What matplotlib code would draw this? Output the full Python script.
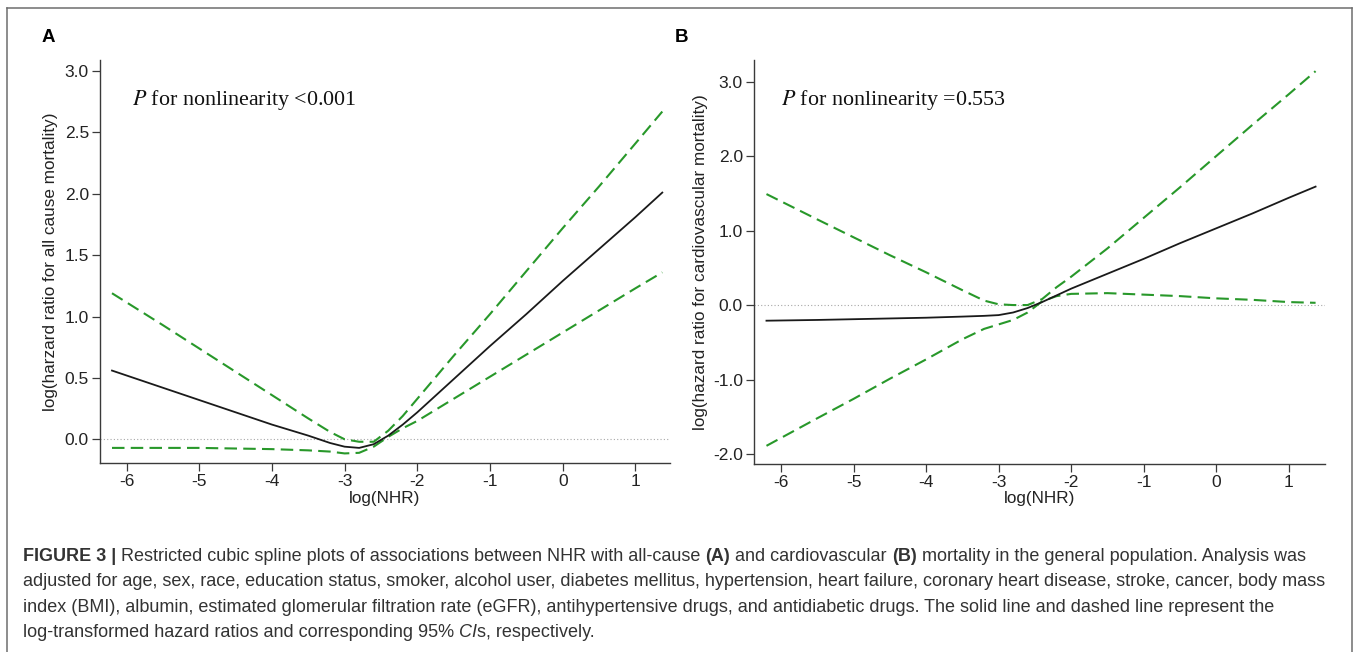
import matplotlib
matplotlib.use("Agg")
import matplotlib.pyplot as plt

# log(NHR) grid shared by both panels
x_nhr = [-6.2, -5.5, -5.0, -4.5, -4.0, -3.5, -3.2, -3.0, -2.8, -2.6,
         -2.4, -2.2, -2.0, -1.5, -1.0, -0.5, 0.0, 0.5, 1.0, 1.37]

# panel A: all cause mortality
a_fit = [0.56, 0.42, 0.32, 0.22, 0.12, 0.03, -0.03, -0.06, -0.07, -0.04,
         0.03, 0.12, 0.22, 0.49, 0.76, 1.02, 1.29, 1.55, 1.81, 2.01]
a_upper = [1.19, 0.93, 0.74, 0.55, 0.36, 0.17, 0.06, 0.0, -0.02, -0.02,
           0.07, 0.19, 0.33, 0.68, 1.02, 1.37, 1.72, 2.06, 2.41, 2.67]
a_lower = [-0.07, -0.07, -0.07, -0.075, -0.08, -0.09, -0.10, -0.115, -0.11, -0.06,
           0.02, 0.09, 0.15, 0.33, 0.51, 0.69, 0.87, 1.05, 1.23, 1.36]

# panel B: cardiovascular mortality
b_fit = [-0.21, -0.20, -0.19, -0.18, -0.17, -0.155, -0.145, -0.135, -0.10, -0.04,
         0.04, 0.13, 0.22, 0.42, 0.62, 0.83, 1.03, 1.23, 1.44, 1.59]
b_upper = [1.49, 1.15, 0.91, 0.67, 0.44, 0.20, 0.06, 0.01, 0.0, 0.0,
           0.08, 0.24, 0.38, 0.76, 1.17, 1.58, 2.0, 2.42, 2.83, 3.14]
b_lower = [-1.89, -1.52, -1.26, -0.99, -0.73, -0.46, -0.32, -0.26, -0.20, -0.10,
           0.05, 0.12, 0.15, 0.16, 0.14, 0.12, 0.09, 0.07, 0.04, 0.03]

x_ticks = [-6, -5, -4, -3, -2, -1, 0, 1]
a_yticks = [0.0, 0.5, 1.0, 1.5, 2.0, 2.5, 3.0]
b_yticks = [-2.0, -1.0, 0.0, 1.0, 2.0, 3.0]

W, H = 1357, 652
SANS = "Liberation Sans"
SERIF = "Liberation Serif"
GREEN = "#28982a"
TXT = "#333333"

plt.rcParams["mathtext.fontset"] = "stix"
fig = plt.figure(figsize=(W / 100, H / 100), dpi=100)


def box(x0, y0, x1, y1):
    # pixel box (top-left origin) -> figure fraction rect
    return [x0 / W, 1 - y1 / H, (x1 - x0) / W, (y1 - y0) / H]


def panel(rect, fit, upper, lower, yticks, xlim, ylim, ylabel, label_x, note, note_x):
    ax = fig.add_axes(rect)
    ax.axhline(0, color="#a8a8a8", lw=0.8, ls=(0, (1, 2)), zorder=1)
    ax.plot(x_nhr, upper, color=GREEN, lw=1.5, dashes=(6, 3))
    ax.plot(x_nhr, lower, color=GREEN, lw=1.5, dashes=(6, 3))
    ax.plot(x_nhr, fit, color="#1a1a1a", lw=1.3)
    ax.set_xlim(*xlim)
    ax.set_ylim(*ylim)
    ax.set_xticks(x_ticks)
    ax.set_xticklabels([str(t) for t in x_ticks])
    ax.set_yticks(yticks)
    ax.set_yticklabels(["%.1f" % t for t in yticks])
    for s in ["top", "right"]:
        ax.spines[s].set_visible(False)
    for s in ["left", "bottom"]:
        ax.spines[s].set_color("#3a3a3a")
        ax.spines[s].set_linewidth(1.0)
    ax.tick_params(direction="out", length=6, width=0.9, color="#3a3a3a",
                   labelsize=12.5, labelcolor="#222222", pad=2,
                   labelfontfamily=SANS)
    ax.set_xlabel("log(NHR)", fontfamily=SANS, fontsize=12.3, color="#222222", labelpad=1)
    ax.set_ylabel(ylabel, fontfamily=SANS, fontsize=12.3, color="#222222")
    ax.yaxis.set_label_coords(label_x, 0.5)
    ax.text(note_x, 0.90, r"$\it{P}$" + " for nonlinearity " + note, transform=ax.transAxes,
            fontfamily=SERIF, fontsize=15.8, color="#111111", va="center")
    return ax


panel(box(100, 60, 670, 463), a_fit, a_upper, a_lower, a_yticks,
      (-6.365, 1.476), (-0.193, 3.09),
      "log(harzard ratio for all cause mortality)", -0.073, "<0.001", 0.056)
panel(box(754, 60, 1325, 464), b_fit, b_upper, b_lower, b_yticks,
      (-6.372, 1.50), (-2.134, 3.29),
      "log(hazard ratio for cardiovascular mortality)", -0.081, "=0.553", 0.047)

fig.text(48 / W, 1 - 38 / H, "A", fontfamily=SANS, fontweight="bold", fontsize=13.5,
         ha="center", va="center")
fig.text(682 / W, 1 - 38 / H, "B", fontfamily=SANS, fontweight="bold", fontsize=13.5,
         ha="center", va="center")

# outer frame: left, top and right edges (bottom runs past the crop)
for xs, ys in [([7, 7], [655, 8]), ([7, 1352], [8, 8]), ([1352, 1352], [8, 655])]:
    fig.add_artist(plt.Line2D([x / W for x in xs], [1 - y / H for y in ys],
                              transform=fig.transFigure, color="#6e6e6e", lw=1.1))

# caption, drawn segment by segment so bold/italic parts sit inline
caption = [
    [("FIGURE 3 |", "bold", "normal"),
     (" Restricted cubic spline plots of associations between NHR with all-cause ", "normal", "normal"),
     ("(A)", "bold", "normal"), (" and cardiovascular ", "normal", "normal"),
     ("(B)", "bold", "normal"),
     (" mortality in the general population. Analysis was", "normal", "normal")],
    [("adjusted for age, sex, race, education status, smoker, alcohol user, diabetes mellitus, "
      "hypertension, heart failure, coronary heart disease, stroke, cancer, body mass", "normal", "normal")],
    [("index (BMI), albumin, estimated glomerular filtration rate (eGFR), antihypertensive drugs, "
      "and antidiabetic drugs. The solid line and dashed line represent the", "normal", "normal")],
    [("log-transformed hazard ratios and corresponding 95% ", "normal", "normal"),
     ("CI", "normal", "italic"), ("s, respectively.", "normal", "normal")],
]
line_y = [561, 586, 612, 637]
cap_x0, cap_x1 = 23, 1305   # first line runs between these pixels

renderer = fig.canvas.get_renderer()


def draw_line(segs, yb, size):
    x = cap_x0
    made = []
    for txt, weight, style in segs:
        t = fig.text(x / W, 1 - yb / H, txt, fontfamily=SANS, fontsize=size,
                     fontweight=weight, fontstyle=style, color=TXT, va="baseline")
        x += t.get_window_extent(renderer).width
        made.append(t)
    return x, made


# size the caption so the first line fills its measured width
end, tmp = draw_line(caption[0], line_y[0], 10)
for t in tmp:
    t.remove()
cap_size = 10 * (cap_x1 - cap_x0) / (end - cap_x0)

for segs, yb in zip(caption, line_y):
    draw_line(segs, yb, cap_size)

fig.savefig("out.png", dpi=100)
